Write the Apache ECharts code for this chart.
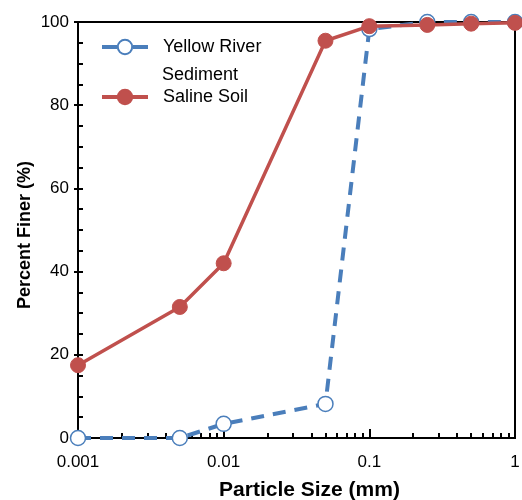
<!DOCTYPE html>
<html>
<head>
<meta charset="utf-8">
<script src="https://cdn.jsdelivr.net/npm/echarts@6/dist/echarts.min.js"></script>
<style>
  html, body { margin: 0; padding: 0; background: #fff; }
  #chart { width: 522px; height: 500px; }
</style>
</head>
<body>
<div id="chart"></div>
<script>
// particle size (mm) and percent finer
const sizes = [0.001, 0.005, 0.01, 0.05, 0.1, 0.25, 0.5, 1];
const yellowRiver = [0, 0, 3.4, 8.2, 98.3, 100, 100, 100];
const salineSoil = [17.5, 31.5, 42, 95.5, 99, 99.3, 99.6, 99.8];

const xMinorTicks = [0.002, 0.003, 0.004, 0.005, 0.006, 0.007, 0.008, 0.009,
  0.02, 0.03, 0.04, 0.05, 0.06, 0.07, 0.08, 0.09,
  0.2, 0.3, 0.4, 0.5, 0.6, 0.7, 0.8, 0.9];
const yMinorTicks = [5, 10, 15, 25, 30, 35, 45, 50, 55, 65, 70, 75, 85, 90, 95];

const font = 'Liberation Sans, Arial, Helvetica, sans-serif';
const blue = '#4a7ebb';
const red = '#c0504d';

const chart = echarts.init(document.getElementById('chart'));

const legendBase = {
  left: 100, padding: 0,
  itemWidth: 46, itemHeight: 18,
  textStyle: { fontSize: 18, color: '#000', padding: [0, 0, 0, 10] }
};

const option = {
  animation: false,
  textStyle: { fontFamily: font },
  grid: {
    left: 78, right: 7, top: 22, bottom: 62,
    outerBoundsMode: 'none',
    show: true, borderColor: '#000', borderWidth: 2
  },
  legend: [
    Object.assign({}, legendBase, {
      data: ['Yellow River Sediment'],
      formatter: () => 'Yellow River',
      lineStyle: { width: 4, type: [15, 16] },
      top: 38
    }),
    Object.assign({}, legendBase, {
      data: ['Saline Soil'],
      lineStyle: { width: 4 },
      top: 88
    })
  ],
  graphic: [
    {
      type: 'text', left: 162, top: 66,
      style: { text: 'Sediment', font: '18px ' + font, fill: '#000' }
    }
  ],
  xAxis: [
    {
      type: 'log', logBase: 10, min: 0.001, max: 1,
      name: 'Particle Size (mm)', nameLocation: 'middle', nameGap: 42,
      nameMoveOverlap: false,
      nameTextStyle: { fontSize: 21, fontWeight: 'bold', color: '#000', padding: [0, 0, 0, 26] },
      axisLine: { lineStyle: { color: '#000', width: 2 } },
      axisTick: { inside: true, length: 9, lineStyle: { color: '#000', width: 2 } },
      axisLabel: { fontSize: 17, color: '#000', margin: 16 },
      splitLine: { show: false }
    },
    {
      type: 'log', logBase: 10, min: 0.001, max: 1, position: 'bottom',
      axisLine: { show: false },
      axisTick: { inside: true, length: 5, customValues: xMinorTicks, lineStyle: { color: '#000', width: 2 } },
      axisLabel: { show: false },
      splitLine: { show: false }
    }
  ],
  yAxis: [
    {
      type: 'value', min: 0, max: 100, interval: 20,
      name: 'Percent Finer (%)', nameLocation: 'middle', nameGap: 44,
      nameMoveOverlap: false,
      nameTextStyle: { fontSize: 18, fontWeight: 'bold', color: '#000', padding: [0, 10, 0, 0] },
      axisLine: { show: true, lineStyle: { color: '#000', width: 2 } },
      axisTick: { show: true, inside: false, length: 4, lineStyle: { color: '#000', width: 2 } },
      axisLabel: { fontSize: 17, color: '#000', margin: 9 },
      splitLine: { show: false }
    },
    {
      type: 'value', min: 0, max: 100, position: 'left',
      axisLine: { show: false },
      axisTick: { show: true, inside: true, length: 5,
        customValues: yMinorTicks.concat([0, 20, 40, 60, 80, 100]),
        lineStyle: { color: '#000', width: 2 } },
      axisLabel: { show: false },
      splitLine: { show: false }
    }
  ],
  series: [
    {
      name: 'Yellow River Sediment',
      type: 'line',
      data: sizes.map((s, i) => [s, yellowRiver[i]]),
      symbol: 'circle', symbolSize: 15,
      itemStyle: { color: '#fff', borderColor: blue, borderWidth: 1.5 },
      lineStyle: { color: blue, width: 4, type: [13, 9] },
      clip: false, z: 2
    },
    {
      name: 'Saline Soil',
      type: 'line',
      data: sizes.map((s, i) => [s, salineSoil[i]]),
      symbol: 'circle', symbolSize: 15,
      itemStyle: { color: red, borderColor: red, borderWidth: 1 },
      lineStyle: { color: red, width: 3.5 },
      clip: false, z: 3
    }
  ]
};

chart.setOption(option);
</script>
</body>
</html>
